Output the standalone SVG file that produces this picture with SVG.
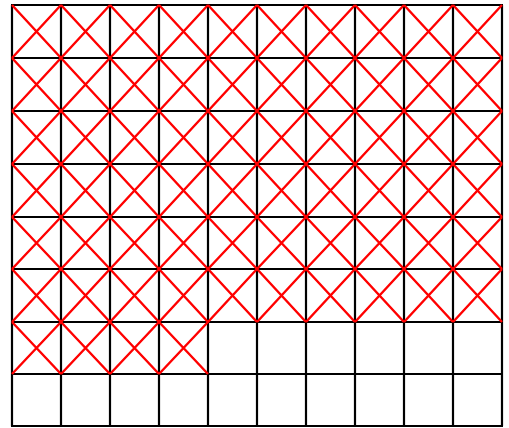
<svg xmlns="http://www.w3.org/2000/svg" width="509" height="428" viewBox="0 0 509 428">
<style>
.g{stroke:#000;stroke-width:2.2;fill:none}
.x{stroke:#f00;stroke-width:2.4;fill:none}
</style>
<rect width="509" height="428" fill="#fff"/>
<g id="grid">
<path class="g" d="M12,5V426M61,5V426M110,5V426M159,5V426M208,5V426M257,5V426M306,5V426M355,5V426M404,5V426M453,5V426M502,5V426
M11,5H503M11,58H503M11,111H503M11,164H503M11,217H503M11,269H503M11,322H503M11,374H503M11,426H503"/>
</g>
<g id="crosses">
<path class="x" d="
M12,5L61,58M61,5L12,58 M61,5L110,58M110,5L61,58 M110,5L159,58M159,5L110,58 M159,5L208,58M208,5L159,58 M208,5L257,58M257,5L208,58 M257,5L306,58M306,5L257,58 M306,5L355,58M355,5L306,58 M355,5L404,58M404,5L355,58 M404,5L453,58M453,5L404,58 M453,5L502,58M502,5L453,58
M12,58L61,111M61,58L12,111 M61,58L110,111M110,58L61,111 M110,58L159,111M159,58L110,111 M159,58L208,111M208,58L159,111 M208,58L257,111M257,58L208,111 M257,58L306,111M306,58L257,111 M306,58L355,111M355,58L306,111 M355,58L404,111M404,58L355,111 M404,58L453,111M453,58L404,111 M453,58L502,111M502,58L453,111
M12,111L61,164M61,111L12,164 M61,111L110,164M110,111L61,164 M110,111L159,164M159,111L110,164 M159,111L208,164M208,111L159,164 M208,111L257,164M257,111L208,164 M257,111L306,164M306,111L257,164 M306,111L355,164M355,111L306,164 M355,111L404,164M404,111L355,164 M404,111L453,164M453,111L404,164 M453,111L502,164M502,111L453,164
M12,164L61,217M61,164L12,217 M61,164L110,217M110,164L61,217 M110,164L159,217M159,164L110,217 M159,164L208,217M208,164L159,217 M208,164L257,217M257,164L208,217 M257,164L306,217M306,164L257,217 M306,164L355,217M355,164L306,217 M355,164L404,217M404,164L355,217 M404,164L453,217M453,164L404,217 M453,164L502,217M502,164L453,217
M12,217L61,269M61,217L12,269 M61,217L110,269M110,217L61,269 M110,217L159,269M159,217L110,269 M159,217L208,269M208,217L159,269 M208,217L257,269M257,217L208,269 M257,217L306,269M306,217L257,269 M306,217L355,269M355,217L306,269 M355,217L404,269M404,217L355,269 M404,217L453,269M453,217L404,269 M453,217L502,269M502,217L453,269
M12,269L61,322M61,269L12,322 M61,269L110,322M110,269L61,322 M110,269L159,322M159,269L110,322 M159,269L208,322M208,269L159,322 M208,269L257,322M257,269L208,322 M257,269L306,322M306,269L257,322 M306,269L355,322M355,269L306,322 M355,269L404,322M404,269L355,322 M404,269L453,322M453,269L404,322 M453,269L502,322M502,269L453,322
M12,322L61,374M61,322L12,374 M61,322L110,374M110,322L61,374 M110,322L159,374M159,322L110,374 M159,322L208,374M208,322L159,374
"/>
</g>
</svg>
